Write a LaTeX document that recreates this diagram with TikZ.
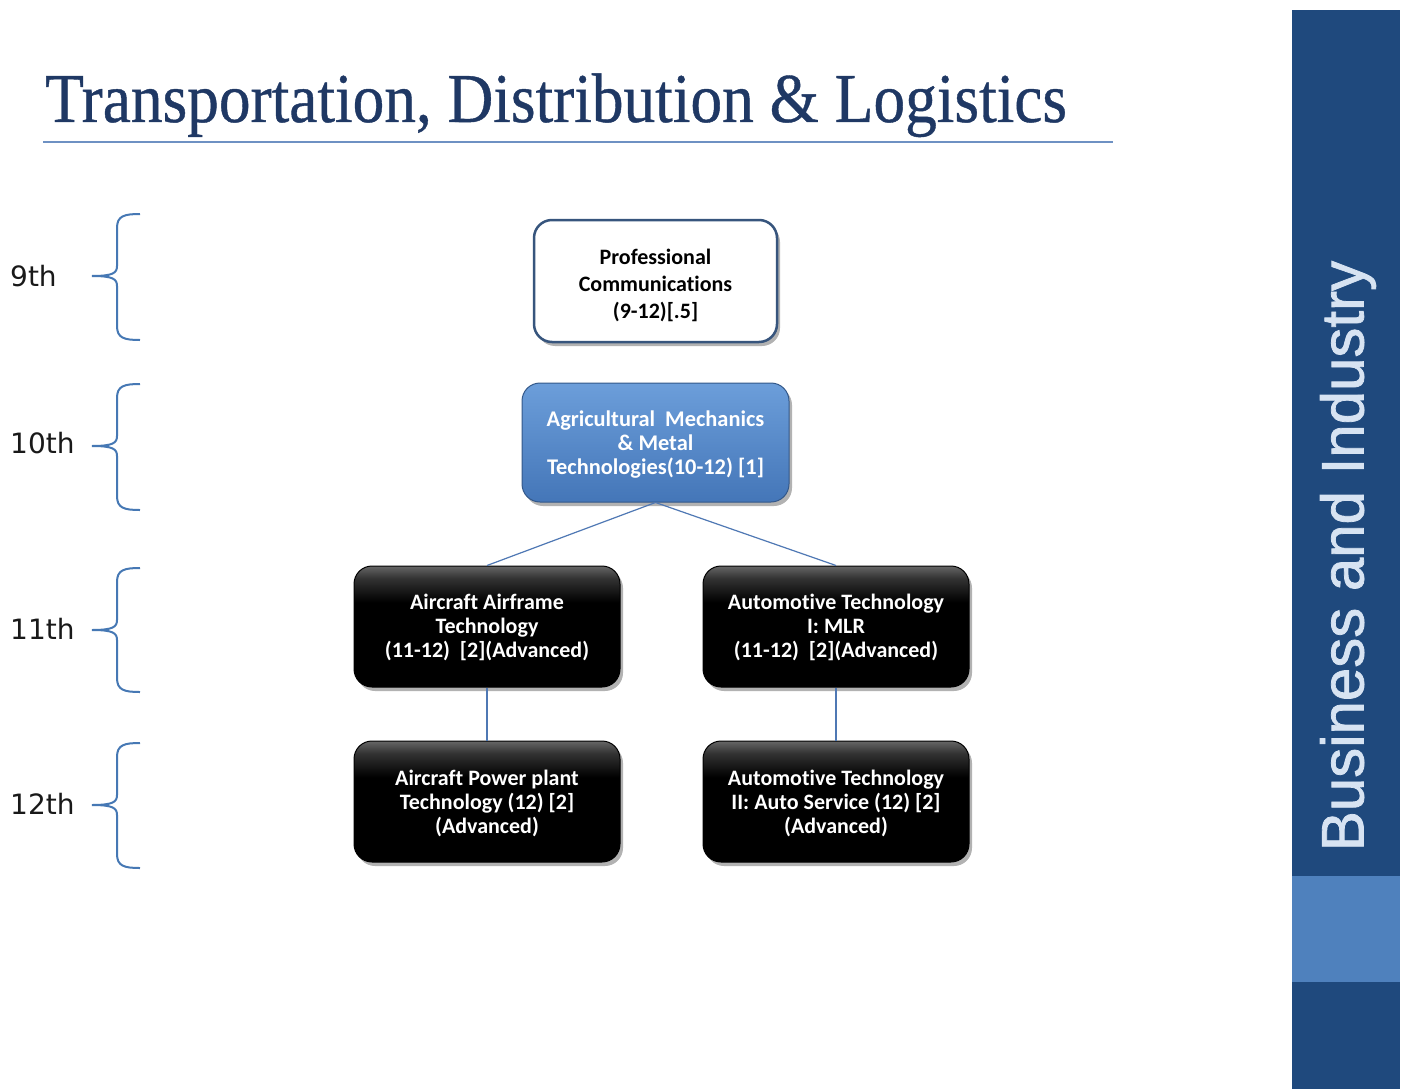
\documentclass[tikz,border=0pt]{standalone}
\usepackage{graphicx}
\usepackage{fontspec}
\setmainfont[FakeBold=0.6]{Liberation Serif}
\newfontfamily\boxfont[Ligatures=NoCommon]{Carlito}
\newfontfamily\gradefont{DejaVu Sans}
\newfontfamily\sidefont[FakeBold=1.3]{Liberation Sans}
\usetikzlibrary{shadows}
\definecolor{titleblue}{RGB}{31,56,100}
\definecolor{barblue}{RGB}{31,73,125}
\definecolor{bandblue}{RGB}{79,129,189}
\definecolor{linkblue}{RGB}{79,120,180}
\definecolor{bracecol}{RGB}{70,120,180}
\definecolor{boxedge}{RGB}{55,85,125}
\definecolor{rulecol}{RGB}{110,145,195}
\definecolor{sidetext}{RGB}{215,227,242}
\definecolor{agritop}{RGB}{108,158,218}
\definecolor{agribot}{RGB}{68,118,184}
\pgfdeclareverticalshading{glossdark}{100bp}{color(0bp)=(black); color(60bp)=(black); color(70bp)=(black!80); color(75bp)=(black!60); color(100bp)=(black!60)}
\tikzset{
  box/.style={rounded corners=18pt, align=center, line width=1pt,
    font=\boxfont\bfseries\fontsize{22}{24}\selectfont,
    drop shadow={shadow xshift=3pt, shadow yshift=-4pt, opacity=0.3, fill=black}},
  darkbox/.style={box, draw=black, shading=glossdark, text=white, minimum width=266pt, minimum height=121pt},
  grade/.style={anchor=west, inner sep=0pt, font=\gradefont\fontsize{28}{32}\selectfont, text=black!90},
  bracepath/.style={draw=bracecol, line width=2pt},
  link/.style={draw=linkblue, line width=1.2pt}
}
\newcommand{\lift}[1]{\rule{0pt}{#1}}
\begin{document}
\begin{tikzpicture}[x=1pt,y=-1pt]
\useasboundingbox (0,0) rectangle (1408,1089);
\fill[white] (0,0) rectangle (1408,1089);
% sidebar
\fill[barblue] (1292,10) rectangle (1400,1089);
\fill[bandblue] (1292,876) rectangle (1400,982);
\node[rotate=90, text=sidetext, inner sep=0pt, font=\sidefont\fontsize{60}{72}\selectfont] (side) at (1348,556) {Business and Industry};
% title
\node[anchor=base west, inner sep=0pt, text=titleblue, font=\fontsize{70}{84}\selectfont] (title) at (45,122)
  {\scalebox{0.905}[1]{Transportation, Distribution \& Logistics}};
\draw[rulecol, line width=1.5pt] (43,142) -- (1113,142);
% grade labels and braces
\node[grade] (g9) at (10,276) {9th};
\node[grade] (g10) at (10,443) {10th};
\node[grade] (g11) at (10,629) {11th};
\node[grade] (g12) at (10,804) {12th};
\foreach \t/\m/\b in {214/276/340, 384/446/510, 568/630/692, 743/805/868}{
  \draw[bracepath] (140,\t) .. controls (124,\t) and (117,\t+2) .. (117,\t+14) -- (117,\m-10)
    .. controls (117,\m-3) and (113,\m) .. (92,\m)
    .. controls (113,\m) and (117,\m+3) .. (117,\m+10) -- (117,\b-14)
    .. controls (117,\b-2) and (124,\b) .. (140,\b);
}
% boxes
\node[box, draw=boxedge, line width=2.5pt, fill=white, text=black, minimum width=243pt, minimum height=122pt,
  font=\boxfont\bfseries\fontsize{22}{27}\selectfont] (prof) at (655.5,281)
  {\lift{25pt}Professional\\Communications\\(9-12)[.5]};
\node[box, draw=agribot!75!black, top color=agritop, bottom color=agribot, text=white,
  minimum width=267pt, minimum height=119pt, font=\boxfont\bfseries\fontsize{22.4}{24}\selectfont] (agri) at (655.5,442.5)
  {\lift{19pt}Agricultural\ \ Mechanics\\\& Metal\\Technologies(10-12) [1]};
\node[darkbox] (air1) at (487,626.5) {\lift{17pt}Aircraft Airframe\\Technology\\(11-12)\ \ [2](Advanced)};
\node[darkbox] (auto1) at (836,626.5) {\lift{17pt}Automotive Technology\\I: MLR\\(11-12)\ \ [2](Advanced)};
\node[darkbox] (air2) at (487,801.5) {\lift{19pt}Aircraft Power plant\\Technology (12) [2]\\(Advanced)};
\node[darkbox] (auto2) at (836,801.5) {\lift{19pt}Automotive Technology\\II: Auto Service (12) [2]\\(Advanced)};
% connectors
\draw[link] (agri.south) -- (air1.north);
\draw[link] (agri.south) -- (auto1.north);
\draw[link] (air1.south) -- (air2.north);
\draw[link] (auto1.south) -- (auto2.north);
\end{tikzpicture}
\end{document}
